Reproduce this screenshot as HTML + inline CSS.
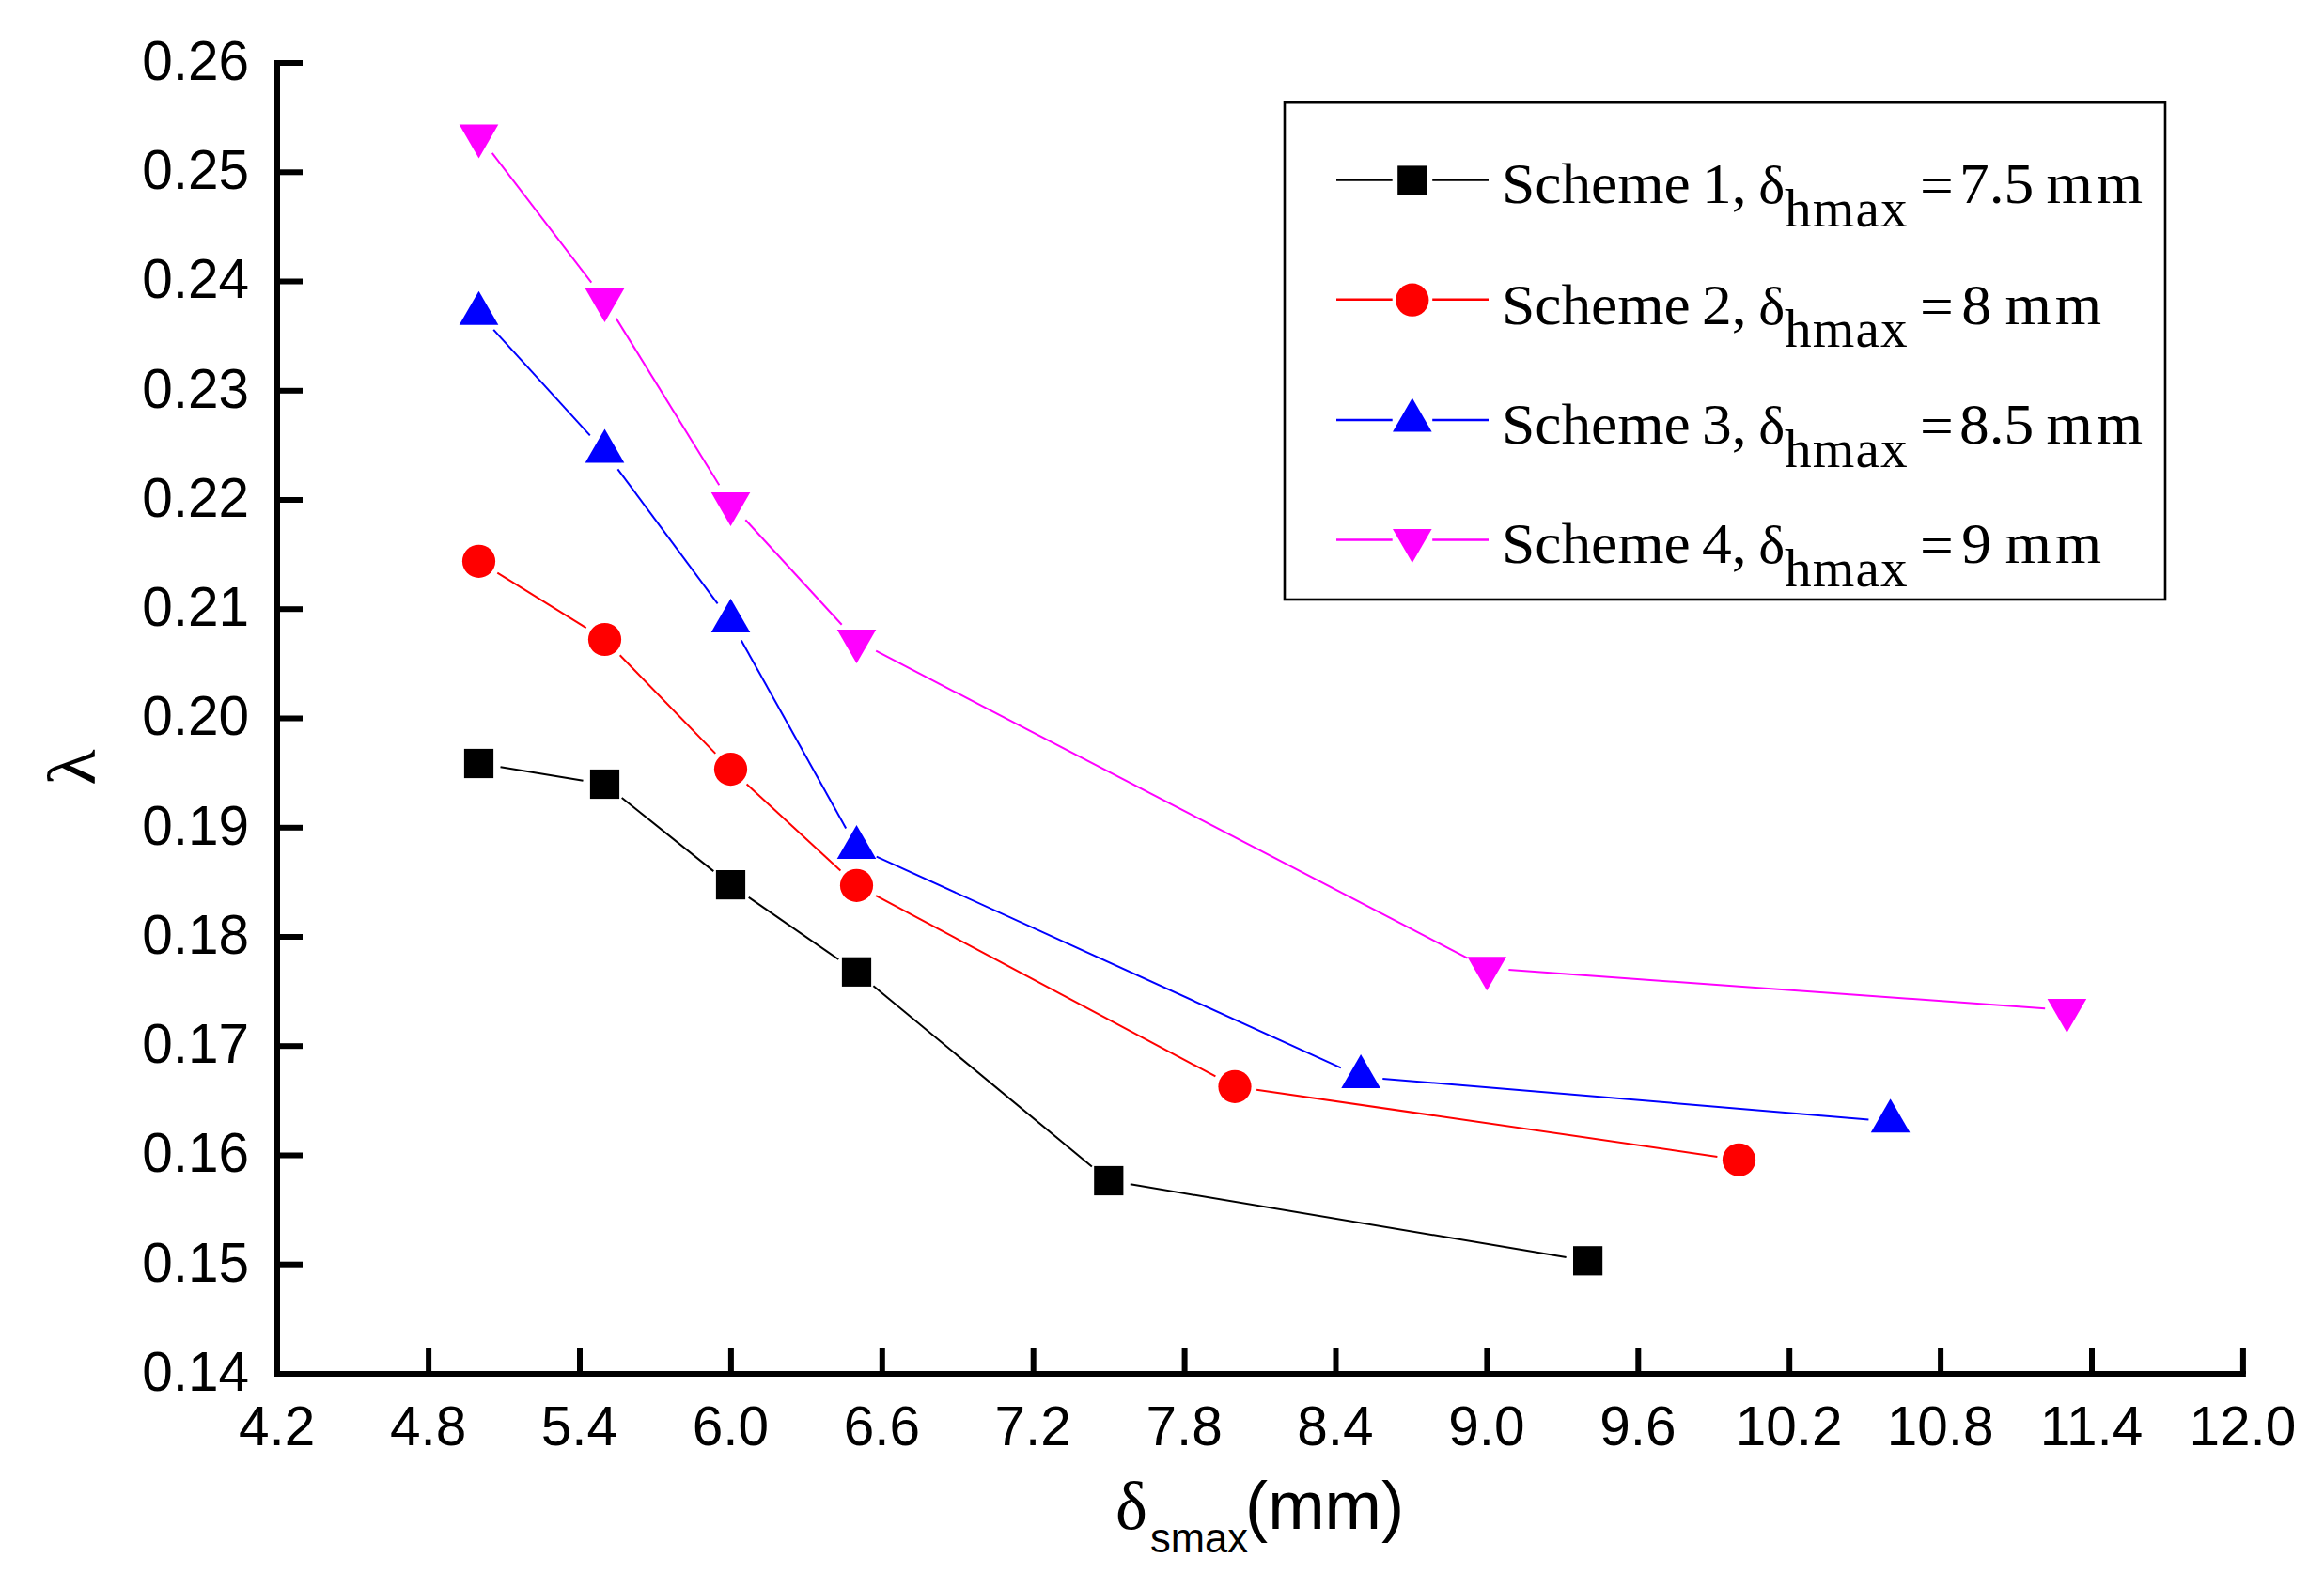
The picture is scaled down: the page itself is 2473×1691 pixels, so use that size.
<!DOCTYPE html>
<html lang="en"><head><meta charset="utf-8"><title>lambda vs delta smax</title>
<style>
html,body{margin:0;padding:0;background:#fff;}
body{width:2473px;height:1691px;overflow:hidden;}
svg{display:block;}
text{fill:#000;}
.sans{font-family:"Liberation Sans",Arial,Helvetica,sans-serif;}
.serif{font-family:"Liberation Serif","Times New Roman",Times,serif;}
.tick{font-size:58.5px;}
</style></head><body>
<svg width="2473" height="1691" viewBox="0 0 2473 1691">
<rect width="2473" height="1691" fill="#fff"/>

<g stroke="#000" stroke-width="6" fill="none" stroke-linecap="butt">
<path d="M295.0 64.0 V1465.0 "/>
<path d="M292.0 1462.0 H2389.9"/>
<path d="M295.0 67.0 H322"/>
<path d="M295.0 183.3 H322"/>
<path d="M295.0 299.5 H322"/>
<path d="M295.0 415.8 H322"/>
<path d="M295.0 532.0 H322"/>
<path d="M295.0 648.2 H322"/>
<path d="M295.0 764.5 H322"/>
<path d="M295.0 880.8 H322"/>
<path d="M295.0 997.0 H322"/>
<path d="M295.0 1113.2 H322"/>
<path d="M295.0 1229.5 H322"/>
<path d="M295.0 1345.7 H322"/>
<path d="M456.1 1462.0 V1435"/>
<path d="M617.0 1462.0 V1435"/>
<path d="M777.9 1462.0 V1435"/>
<path d="M938.8 1462.0 V1435"/>
<path d="M1099.7 1462.0 V1435"/>
<path d="M1260.6 1462.0 V1435"/>
<path d="M1421.5 1462.0 V1435"/>
<path d="M1582.4 1462.0 V1435"/>
<path d="M1743.3 1462.0 V1435"/>
<path d="M1904.2 1462.0 V1435"/>
<path d="M2065.1 1462.0 V1435"/>
<path d="M2226.0 1462.0 V1435"/>
<path d="M2386.9 1462.0 V1435"/>
</g>
<g class="sans tick" text-anchor="end">
<text x="265" y="84.8">0.26</text>
<text x="265" y="201.1">0.25</text>
<text x="265" y="317.3">0.24</text>
<text x="265" y="433.6">0.23</text>
<text x="265" y="549.8">0.22</text>
<text x="265" y="666.0">0.21</text>
<text x="265" y="782.3">0.20</text>
<text x="265" y="898.6">0.19</text>
<text x="265" y="1014.8">0.18</text>
<text x="265" y="1131.0">0.17</text>
<text x="265" y="1247.3">0.16</text>
<text x="265" y="1363.5">0.15</text>
<text x="265" y="1479.8">0.14</text>
</g>
<g class="sans tick" text-anchor="middle">
<text x="294.7" y="1538">4.2</text>
<text x="455.6" y="1538">4.8</text>
<text x="616.5" y="1538">5.4</text>
<text x="777.4" y="1538">6.0</text>
<text x="938.3" y="1538">6.6</text>
<text x="1099.2" y="1538">7.2</text>
<text x="1260.1" y="1538">7.8</text>
<text x="1421.0" y="1538">8.4</text>
<text x="1581.9" y="1538">9.0</text>
<text x="1742.8" y="1538">9.6</text>
<text x="1903.7" y="1538">10.2</text>
<text x="2064.6" y="1538">10.8</text>
<text x="2225.5" y="1538">11.4</text>
<text x="2386.4" y="1538">12.0</text>
</g>
<line x1="532.5" y1="816.3" x2="620.5" y2="830.7" stroke="#000" stroke-width="2.0"/>
<line x1="661.7" y1="849.0" x2="759.3" y2="927.1" stroke="#000" stroke-width="2.0"/>
<line x1="796.7" y1="954.9" x2="892.3" y2="1021.0" stroke="#000" stroke-width="2.0"/>
<line x1="929.4" y1="1049.2" x2="1161.9" y2="1241.6" stroke="#000" stroke-width="2.0"/>
<line x1="1202.8" y1="1260.3" x2="1666.6" y2="1338.0" stroke="#000" stroke-width="2.0"/>
<line x1="529.3" y1="609.6" x2="623.7" y2="668.2" stroke="#f00" stroke-width="2.0"/>
<line x1="659.7" y1="697.2" x2="761.3" y2="801.9" stroke="#f00" stroke-width="2.0"/>
<line x1="794.6" y1="834.4" x2="894.4" y2="926.5" stroke="#f00" stroke-width="2.0"/>
<line x1="932.1" y1="953.2" x2="1293.4" y2="1145.4" stroke="#f00" stroke-width="2.0"/>
<line x1="1337.1" y1="1159.7" x2="1827.4" y2="1230.9" stroke="#f00" stroke-width="2.0"/>
<line x1="525.2" y1="350.9" x2="627.8" y2="463.4" stroke="#00f" stroke-width="2.0"/>
<line x1="657.4" y1="499.3" x2="763.6" y2="642.3" stroke="#00f" stroke-width="2.0"/>
<line x1="788.8" y1="681.4" x2="900.2" y2="881.6" stroke="#00f" stroke-width="2.0"/>
<line x1="932.7" y1="911.6" x2="1426.9" y2="1136.4" stroke="#00f" stroke-width="2.0"/>
<line x1="1471.3" y1="1147.9" x2="1988.4" y2="1191.4" stroke="#00f" stroke-width="2.0"/>
<line x1="523.7" y1="162.9" x2="629.3" y2="300.6" stroke="#f0f" stroke-width="2.0"/>
<line x1="655.7" y1="338.9" x2="765.3" y2="516.2" stroke="#f0f" stroke-width="2.0"/>
<line x1="793.3" y1="553.2" x2="895.7" y2="664.8" stroke="#f0f" stroke-width="2.0"/>
<line x1="932.2" y1="692.7" x2="1561.5" y2="1019.6" stroke="#f0f" stroke-width="2.0"/>
<line x1="1605.4" y1="1032.0" x2="2176.2" y2="1073.3" stroke="#f0f" stroke-width="2.0"/>
<rect x="493.9" y="796.9" width="31.2" height="31.2" fill="#000"/>
<rect x="627.9" y="818.9" width="31.2" height="31.2" fill="#000"/>
<rect x="761.9" y="926.0" width="31.2" height="31.2" fill="#000"/>
<rect x="895.9" y="1018.7" width="31.2" height="31.2" fill="#000"/>
<rect x="1164.2" y="1240.9" width="31.2" height="31.2" fill="#000"/>
<rect x="1674.0" y="1326.2" width="31.2" height="31.2" fill="#000"/>
<circle cx="509.5" cy="597.3" r="17.6" fill="#f00"/>
<circle cx="643.5" cy="680.5" r="17.6" fill="#f00"/>
<circle cx="777.5" cy="818.6" r="17.6" fill="#f00"/>
<circle cx="911.5" cy="942.3" r="17.6" fill="#f00"/>
<circle cx="1314.0" cy="1156.3" r="17.6" fill="#f00"/>
<circle cx="1850.5" cy="1234.3" r="17.6" fill="#f00"/>
<polygon points="488.7,345.7 530.3,345.7 509.5,309.7" fill="#00f"/>
<polygon points="622.7,492.6 664.3,492.6 643.5,456.6" fill="#00f"/>
<polygon points="756.7,673.0 798.3,673.0 777.5,637.0" fill="#00f"/>
<polygon points="890.7,914.0 932.3,914.0 911.5,878.0" fill="#00f"/>
<polygon points="1427.3,1158.0 1468.9,1158.0 1448.1,1122.0" fill="#00f"/>
<polygon points="1990.8,1205.3 2032.4,1205.3 2011.6,1169.3" fill="#00f"/>
<polygon points="488.7,132.4 530.3,132.4 509.5,168.4" fill="#f0f"/>
<polygon points="622.7,307.1 664.3,307.1 643.5,343.1" fill="#f0f"/>
<polygon points="756.7,524.0 798.3,524.0 777.5,560.0" fill="#f0f"/>
<polygon points="890.7,670.0 932.3,670.0 911.5,706.0" fill="#f0f"/>
<polygon points="1561.4,1018.3 1603.0,1018.3 1582.2,1054.3" fill="#f0f"/>
<polygon points="2178.6,1063.0 2220.2,1063.0 2199.4,1099.0" fill="#f0f"/>
<rect x="1367" y="109.2" width="937" height="528.8" fill="#fff" stroke="#000" stroke-width="2.6"/>
<path d="M1422 191.5 H1481.7 M1524.2 191.5 H1584" stroke="#000" stroke-width="2.4"/>
<rect x="1487.2" y="176.4" width="31.2" height="31.2" fill="#000"/>
<text class="serif" font-size="62" transform="scale(1.023 1)" y="216"><tspan x="1562.07">Scheme</tspan> <tspan x="1770.28">1,</tspan> <tspan x="1829.13" font-size="58">δ</tspan><tspan x="1856.30" dy="24.8" font-size="56" letter-spacing="1.1">hmax</tspan> <tspan x="1997.07" dy="-22.3">=</tspan> <tspan x="2038.12" dy="-2.5">7.5</tspan> <tspan x="2128.54" letter-spacing="3.8">mm</tspan></text>
<path d="M1422 318.7 H1481.7 M1524.2 318.7 H1584" stroke="#f00" stroke-width="2.4"/>
<circle cx="1502.8" cy="319.2" r="17.6" fill="#f00"/>
<text class="serif" font-size="62" transform="scale(1.023 1)" y="344.6"><tspan x="1562.07">Scheme</tspan> <tspan x="1770.28">2,</tspan> <tspan x="1829.13" font-size="58">δ</tspan><tspan x="1856.30" dy="24.8" font-size="56" letter-spacing="1.1">hmax</tspan> <tspan x="1997.07" dy="-22.3">=</tspan> <tspan x="2040.37" dy="-2.5">8</tspan> <tspan x="2085.53" letter-spacing="3.8">mm</tspan></text>
<path d="M1422 447 H1481.7 M1524.2 447 H1584" stroke="#00f" stroke-width="2.4"/>
<polygon points="1482.0,459.5 1523.6,459.5 1502.8,423.5" fill="#00f"/>
<text class="serif" font-size="62" transform="scale(1.023 1)" y="471.8"><tspan x="1562.07">Scheme</tspan> <tspan x="1770.28">3,</tspan> <tspan x="1829.13" font-size="58">δ</tspan><tspan x="1856.30" dy="24.8" font-size="56" letter-spacing="1.1">hmax</tspan> <tspan x="1997.07" dy="-22.3">=</tspan> <tspan x="2038.12" dy="-2.5">8.5</tspan> <tspan x="2128.54" letter-spacing="3.8">mm</tspan></text>
<path d="M1422 574.5 H1481.7 M1524.2 574.5 H1584" stroke="#f0f" stroke-width="2.4"/>
<polygon points="1482.0,563.0 1523.6,563.0 1502.8,599.0" fill="#f0f"/>
<text class="serif" font-size="62" transform="scale(1.023 1)" y="599"><tspan x="1562.07">Scheme</tspan> <tspan x="1770.28">4,</tspan> <tspan x="1829.13" font-size="58">δ</tspan><tspan x="1856.30" dy="24.8" font-size="56" letter-spacing="1.1">hmax</tspan> <tspan x="1997.07" dy="-22.3">=</tspan> <tspan x="2040.37" dy="-2.5">9</tspan> <tspan x="2085.53" letter-spacing="3.8">mm</tspan></text>
<text class="serif" font-size="72" x="1187" y="1626.6">δ</text>
<text class="sans" font-size="43.5" x="1224" y="1651.9">smax</text>
<text class="sans" font-size="72.5" x="1325" y="1626.6">(mm)</text>
<text class="serif" font-size="72" text-anchor="middle" transform="translate(101 816.5) rotate(-90) scale(1.1 1)">λ</text>
</svg></body></html>
